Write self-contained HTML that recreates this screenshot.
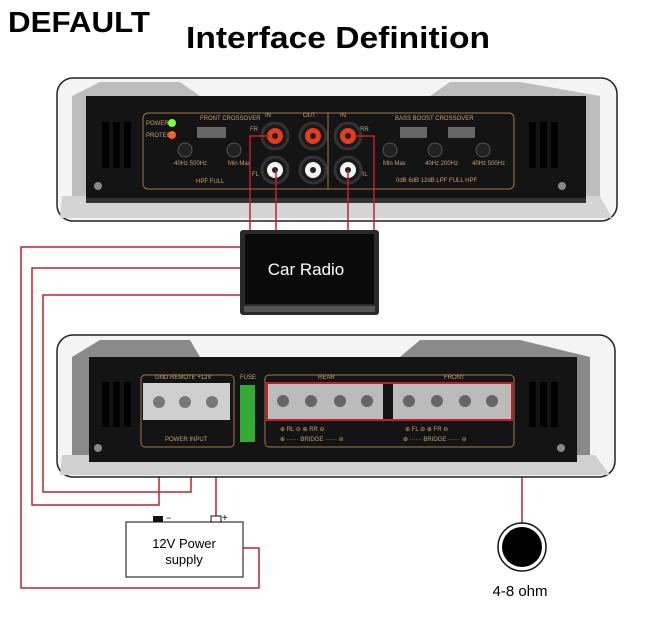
<!DOCTYPE html>
<html><head><meta charset="utf-8"><style>
html,body{margin:0;padding:0;background:#fff;}
svg{display:block;font-family:"Liberation Sans",sans-serif;}
</style></head><body>
<svg width="650" height="621" viewBox="0 0 650 621" xmlns="http://www.w3.org/2000/svg">
<rect width="650" height="621" fill="#fff"/>
<text x="8" y="32" font-size="29" font-weight="bold" textLength="142" lengthAdjust="spacingAndGlyphs">DEFAULT</text>
<text x="186" y="48" font-size="31" font-weight="bold" textLength="304" lengthAdjust="spacingAndGlyphs">Interface Definition</text>

<!-- TOP PANEL -->
<rect x="57" y="78" width="560" height="143" rx="16" fill="#f4f4f4" stroke="#222" stroke-width="1.5"/>
<polygon points="72,96 100,82 180,82 200,96 430,96 450,82 520,82 600,96 600,200 72,200" fill="#bdbdbd"/>
<polygon points="62,196 600,196 612,218 60,218" fill="#d4d4d4"/>
<rect x="86" y="96" width="500" height="104" fill="#141414"/>
<rect x="86" y="198" width="500" height="5" fill="#333"/>
<g fill="#000"><rect x="102" y="122" width="7" height="46"/><rect x="113" y="122" width="7" height="46"/><rect x="124" y="122" width="7" height="46"/>
<rect x="529" y="122" width="7" height="46"/><rect x="540" y="122" width="7" height="46"/><rect x="551" y="122" width="7" height="46"/></g>
<rect x="143" y="113" width="371" height="76" rx="5" fill="none" stroke="#a0764a" stroke-width="1"/>
<line x1="328" y1="113" x2="328" y2="189" stroke="#a0764a"/>
<circle cx="172" cy="123" r="4" fill="#7f3"/><circle cx="172" cy="135" r="4" fill="#f52"/>
<g fill="#c8a070" font-size="6"><text x="146" y="125">POWER</text><text x="146" y="137">PROTECT</text><text x="200" y="120">FRONT CROSSOVER</text><text x="395" y="120">BASS BOOST  CROSSOVER</text><text x="265" y="117">IN</text><text x="303" y="117">OUT</text><text x="340" y="117">IN</text><text x="250" y="131">FR</text><text x="360" y="131">RR</text><text x="252" y="176">FL</text><text x="360" y="176">RL</text><text x="174" y="165">40Hz 500Hz</text><text x="228" y="165">Min Max</text><text x="383" y="165">Min Max</text><text x="425" y="165">40Hz 200Hz</text><text x="472" y="165">40Hz 500Hz</text><text x="396" y="182">0dB 6dB 12dB LPF FULL HPF</text><text x="196" y="183">HPF  FULL</text></g>
<g fill="#222" stroke="#555"><circle cx="185" cy="150" r="7"/><circle cx="234" cy="150" r="7"/><circle cx="390" cy="150" r="7"/><circle cx="435" cy="150" r="7"/><circle cx="483" cy="150" r="7"/></g>
<g fill="#666"><rect x="197" y="127" width="29" height="11"/><rect x="400" y="127" width="27" height="11"/><rect x="448" y="127" width="27" height="11"/></g>
<g stroke="#333" stroke-width="3">
<circle cx="275" cy="136" r="13" fill="#1a1a1a"/><circle cx="313" cy="136" r="13" fill="#1a1a1a"/><circle cx="348" cy="136" r="13" fill="#1a1a1a"/>
<circle cx="275" cy="170" r="13" fill="#1a1a1a"/><circle cx="313" cy="170" r="13" fill="#1a1a1a"/><circle cx="348" cy="170" r="13" fill="#1a1a1a"/></g>
<g fill="#e63c1e"><circle cx="275" cy="136" r="8"/><circle cx="313" cy="136" r="8"/><circle cx="348" cy="136" r="8"/></g>
<g fill="#f4f4f4"><circle cx="275" cy="170" r="8"/><circle cx="313" cy="170" r="8"/><circle cx="348" cy="170" r="8"/></g>
<g fill="#222"><circle cx="275" cy="136" r="3"/><circle cx="313" cy="136" r="3"/><circle cx="348" cy="136" r="3"/><circle cx="275" cy="170" r="3"/><circle cx="313" cy="170" r="3"/><circle cx="348" cy="170" r="3"/></g>
<circle cx="98" cy="186" r="4" fill="#888"/><circle cx="562" cy="186" r="4" fill="#888"/>

<!-- wires -->
<g fill="none" stroke="#c0202a" stroke-width="1.5">
<polyline points="270,136 250,136 250,230"/>
<line x1="276" y1="170" x2="276" y2="230"/>
<line x1="348" y1="170" x2="348" y2="230"/>
<polyline points="354,136 374,136 374,230"/>
<polyline points="240,247 21,247 21,588 259,588 259,548 243,548"/>
<polyline points="240,268 32,268 32,505 159,505 159,420"/>
<polyline points="240,295 43,295 43,492 191,492 191,420"/>
<polyline points="216,420 216,518"/>
<polyline points="512,413 522,413 522,547"/>
</g>

<!-- car radio -->
<rect x="240" y="230" width="139" height="85" rx="3" fill="#2a2a2a"/>
<rect x="245" y="234" width="129" height="70" fill="#0a0a0a"/>
<rect x="244" y="306" width="131" height="6" fill="#555"/>
<text x="306" y="275" font-size="17" fill="#fff" text-anchor="middle">Car Radio</text>

<!-- BOTTOM PANEL -->
<rect x="57" y="335" width="558" height="142" rx="16" fill="#f4f4f4" stroke="#222" stroke-width="1.5"/>
<polygon points="72,357 100,340 190,340 200,357 400,357 420,340 520,340 590,357 590,462 72,462" fill="#8a8a8a"/>
<polygon points="62,455 595,455 610,475 60,475" fill="#d0d0d0"/>
<rect x="89" y="357" width="488" height="105" fill="#141414"/>
<g fill="#000"><rect x="102" y="382" width="7" height="45"/><rect x="113" y="382" width="7" height="45"/><rect x="124" y="382" width="7" height="45"/>
<rect x="529" y="382" width="7" height="45"/><rect x="540" y="382" width="7" height="45"/><rect x="551" y="382" width="7" height="45"/></g>
<rect x="141" y="375" width="93" height="72" rx="4" fill="none" stroke="#a0764a"/>
<rect x="265" y="375" width="249" height="72" rx="4" fill="none" stroke="#a0764a"/>
<rect x="143" y="383" width="87" height="37" fill="#cfcfcf"/>
<g fill="#777"><circle cx="159" cy="402" r="6"/><circle cx="185" cy="402" r="6"/><circle cx="212" cy="402" r="6"/></g>
<rect x="240" y="385" width="15" height="57" fill="#3a3"/>
<rect x="267" y="383" width="245" height="37" fill="#bbb" stroke="#c0202a" stroke-width="2"/>
<rect x="383" y="384" width="10" height="35" fill="#141414"/>
<g fill="#666"><circle cx="283" cy="401" r="6"/><circle cx="311" cy="401" r="6"/><circle cx="340" cy="401" r="6"/><circle cx="367" cy="401" r="6"/><circle cx="409" cy="401" r="6"/><circle cx="437" cy="401" r="6"/><circle cx="465" cy="401" r="6"/><circle cx="492" cy="401" r="6"/></g>
<g fill="#c8a070" font-size="6"><text x="155" y="379">GND  REMOTE  +12V</text><text x="240" y="379">FUSE</text><text x="318" y="379">REAR</text><text x="444" y="379">FRONT</text><text x="165" y="441">POWER INPUT</text><text x="280" y="431">⊕ RL ⊖   ⊕ RR ⊖</text><text x="405" y="431">⊕ FL ⊖   ⊕ FR ⊖</text><text x="280" y="441">⊕ ······ BRIDGE ······ ⊖</text><text x="403" y="441">⊕ ······ BRIDGE ······ ⊖</text></g>
<circle cx="98" cy="448" r="4" fill="#888"/><circle cx="561" cy="448" r="4" fill="#888"/>

<!-- power supply -->
<rect x="126" y="522" width="117" height="55" fill="#fff" stroke="#333" stroke-width="1.2"/>
<rect x="153" y="516" width="10" height="6" fill="#111"/>
<rect x="211" y="516" width="10" height="6" fill="#fff" stroke="#111"/>
<text x="166" y="521" font-size="9">−</text><text x="222" y="521" font-size="10">+</text>
<text x="184" y="548" font-size="13" text-anchor="middle">12V Power</text>
<text x="184" y="564" font-size="13" text-anchor="middle">supply</text>

<!-- speaker -->
<circle cx="522" cy="547" r="24" fill="#fff" stroke="#111" stroke-width="1.5"/>
<circle cx="522" cy="547" r="20" fill="#000"/>
<text x="520" y="596" font-size="15" text-anchor="middle">4-8 ohm</text>
</svg>
</body></html>
